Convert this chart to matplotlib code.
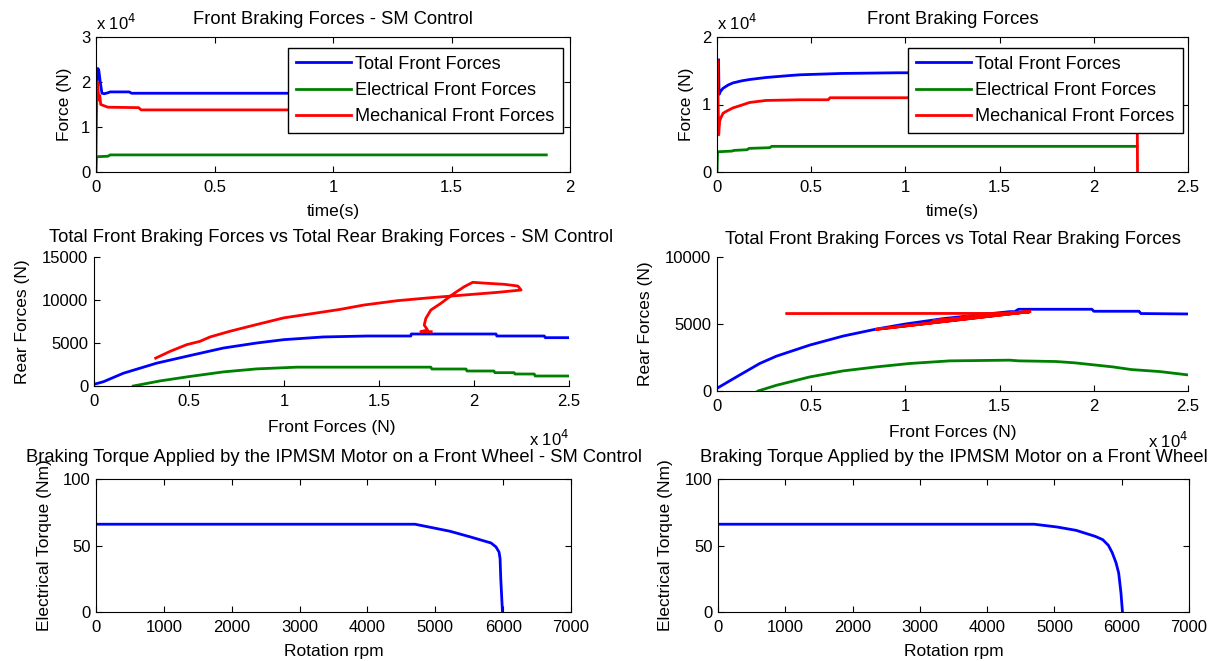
import numpy as np
import matplotlib
matplotlib.use("Agg")
import matplotlib.pyplot as plt

plt.rcParams['font.family'] = ['Liberation Sans', 'DejaVu Sans']

# --- top row: front braking forces vs time (N) ---
t_sm_total = [0, 0.003, 0.008, 0.012, 0.018, 0.025, 0.035, 0.05, 0.06, 0.14, 0.15, 1.9]
f_sm_total = [14000, 19000, 23000, 22500, 20000, 17500, 17400, 17600, 17800, 17800, 17500, 17500]
t_sm_elec = [0, 0.002, 0.004, 0.05, 0.06, 1.9]
f_sm_elec = [0, 3000, 3400, 3500, 3800, 3800]
t_sm_mech = [0, 0.002, 0.005, 0.008, 0.012, 0.016, 0.02, 0.03, 0.05, 0.18, 0.19, 1.9]
f_sm_mech = [3000, 12000, 20000, 19500, 16000, 17000, 15000, 14800, 14400, 14300, 13800, 13800]

t_total = [0.008, 0.011, 0.02, 0.032, 0.06, 0.085, 0.13, 0.173, 0.26, 0.39, 0.44, 0.66, 0.96, 1.5, 2.23]
f_total = [16600, 11500, 12000, 12400, 12900, 13200, 13500, 13700, 14000, 14300, 14400, 14600, 14700, 14700, 14700]
t_elec = [0, 0.003, 0.006, 0.08, 0.09, 0.16, 0.17, 0.28, 0.29, 2.23]
f_elec = [0, 3000, 3000, 3100, 3200, 3300, 3500, 3600, 3800, 3800]
t_mech = [0, 0.002, 0.004, 0.009, 0.014, 0.02, 0.032, 0.05, 0.085, 0.13, 0.173, 0.26, 0.44, 0.59, 0.6, 2.23, 2.232]
f_mech = [14000, 16500, 14000, 5500, 7500, 8000, 8700, 9000, 9500, 9900, 10300, 10600, 10700, 10700, 11000, 11000, 0]

# --- middle row: front vs rear forces (N) ---
sm_front_total = [0, 500, 1544, 3298, 5000, 6807, 8561, 10000, 12070, 14390, 15000, 16675, 16700,
                  21160, 21200, 23700, 23750, 25000]
sm_rear_total = [200, 500, 1484, 2656, 3516, 4414, 5000, 5390, 5703, 5814, 5814, 5814, 6047,
                 6047, 5814, 5814, 5620, 5620]
sm_front_elec = [2070, 3500, 5000, 6807, 8561, 10667, 17730, 17780, 19580, 19630, 21050, 21100,
                 22110, 22160, 23170, 23220, 25000]
sm_rear_elec = [0, 600, 1094, 1640, 1990, 2190, 2190, 1977, 1977, 1744, 1744, 1550,
                1550, 1395, 1395, 1163, 1163]
sm_front_mech = [3246, 4000, 4877, 5579, 6105, 7158, 8561, 10000, 11193, 12947, 14212, 15973, 17731,
                 19490, 21250, 22480, 22306, 21600, 20723, 19930, 19490, 18960, 18260, 17730, 17467,
                 17380, 17555, 17200, 17750]
sm_rear_mech = [3242, 4023, 4805, 5195, 5703, 6367, 7148, 7930, 8320, 8906, 9419, 9923, 10270,
                10581, 10891, 11163, 11628, 11822, 11938, 12054, 11550, 10780, 9617, 8837, 7868,
                7093, 6512, 6318, 6318]

front_total = [0, 1030, 2268, 3155, 4923, 6692, 8465, 10000, 12000, 14000, 15545, 15800, 16000,
               19900, 20000, 22400, 22500, 25000]
rear_total = [200, 1050, 2054, 2601, 3426, 4100, 4625, 5000, 5400, 5700, 5922, 5922, 6100,
              6100, 5950, 5950, 5780, 5750]
front_elec = [2178, 3155, 4923, 6692, 8465, 10234, 12358, 15545, 16000, 18000, 19000, 20000,
              21000, 22000, 23500, 25000]
rear_elec = [0, 427, 1050, 1500, 1800, 2054, 2249, 2301, 2250, 2200, 2100, 1950, 1800, 1600, 1450, 1200]
front_mech = [3700, 15000, 16600, 8465, 16600, 11500, 16600, 13000, 16600]
rear_mech = [5780, 5790, 5920, 4603, 5920, 5250, 5920, 5500, 5920]

# --- bottom row: motor torque vs rotation ---
sm_rpm = [0, 4700, 4976, 5218, 5520, 5822, 5895, 5940, 5955, 5965, 5980, 5990]
sm_torque = [66, 66, 63.2, 60.7, 56.4, 51.9, 48.9, 45, 40, 25, 10, 0]
rpm = [0, 4700, 5040, 5322, 5605, 5718, 5802, 5859, 5915, 5955, 5989, 6011]
torque = [66, 66, 63.9, 61.4, 56.9, 54.4, 50.1, 44.6, 37.1, 29.3, 14.3, 0]

legend_labels = ['Total Front Forces', 'Electrical Front Forces', 'Mechanical Front Forces']

BLUE = (0, 0, 1)
GREEN = (0, 0.5, 0)
RED = (1, 0, 0)
LW = 2.0
FS = 12.5       # axis labels
FS_T = 13.2     # titles
FS_L = 13.1     # legend

W, H = 1215, 661


def box(l, r, t, b):
    # pixel box -> figure fraction
    return [l / W, (H - b) / H, (r - l) / W, (b - t) / H]


def style(ax, full_box=True):
    ax.tick_params(direction='in', length=4, width=0.8, labelsize=12, pad=6,
                   top=full_box, right=full_box)
    ax.tick_params(axis='y', pad=4)
    for s in ['top', 'right']:
        ax.spines[s].set_visible(full_box)
    for s in ax.spines.values():
        s.set_linewidth(0.8)


def fmt(vals):
    return ['%g' % v for v in vals]


def add_legend(ax, x):
    leg = ax.legend(legend_labels, loc='upper right', bbox_to_anchor=(x, 0.921), fontsize=FS_L,
                    fancybox=False, edgecolor='black', framealpha=1, handlelength=3.0,
                    handletextpad=0.25, labelspacing=0.5, borderpad=0.45, borderaxespad=0)
    leg.get_frame().set_linewidth(1.0)


fig = plt.figure(figsize=(12.15, 6.61), dpi=100)

# top left
ax = fig.add_axes(box(96, 570, 37, 172))
ax.plot(np.array(t_sm_total), np.array(f_sm_total) / 1e4, color=BLUE, lw=LW)
ax.plot(np.array(t_sm_elec), np.array(f_sm_elec) / 1e4, color=GREEN, lw=LW)
ax.plot(np.array(t_sm_mech), np.array(f_sm_mech) / 1e4, color=RED, lw=LW)
ax.set_xlim(0, 2)
ax.set_ylim(0, 3)
ax.set_xticks([0, 0.5, 1, 1.5, 2], fmt([0, 0.5, 1, 1.5, 2]))
ax.set_yticks([0, 1, 2, 3], fmt([0, 1, 2, 3]))
style(ax)
ax.set_title('Front Braking Forces - SM Control', fontsize=FS_T, pad=9)
ax.set_xlabel('time(s)', fontsize=FS, labelpad=6)
ax.set_ylabel('Force (N)', fontsize=FS)
ax.yaxis.set_label_coords(-0.051, 0.5)
ax.text(0.0, 1.03, r'x 10$^4$', transform=ax.transAxes, fontsize=12, ha='left', va='bottom')
add_legend(ax, 0.985)

# top right
ax = fig.add_axes(box(717, 1188, 37, 172))
ax.plot(np.array(t_total), np.array(f_total) / 1e4, color=BLUE, lw=LW)
ax.plot(np.array(t_elec), np.array(f_elec) / 1e4, color=GREEN, lw=LW)
ax.plot(np.array(t_mech), np.array(f_mech) / 1e4, color=RED, lw=LW)
ax.set_xlim(0, 2.5)
ax.set_ylim(0, 2)
ax.set_xticks([0, 0.5, 1, 1.5, 2, 2.5], fmt([0, 0.5, 1, 1.5, 2, 2.5]))
ax.set_yticks([0, 1, 2], fmt([0, 1, 2]))
style(ax)
ax.set_title('Front Braking Forces', fontsize=FS_T, pad=9)
ax.set_xlabel('time(s)', fontsize=FS, labelpad=6)
ax.set_ylabel('Force (N)', fontsize=FS)
ax.yaxis.set_label_coords(-0.049, 0.5)
ax.text(0.0, 1.03, r'x 10$^4$', transform=ax.transAxes, fontsize=12, ha='left', va='bottom')
add_legend(ax, 0.989)

# middle left
ax = fig.add_axes(box(94, 569, 257, 386))
ax.plot(np.array(sm_front_total) / 1e4, sm_rear_total, color=BLUE, lw=LW)
ax.plot(np.array(sm_front_elec) / 1e4, sm_rear_elec, color=GREEN, lw=LW)
ax.plot(np.array(sm_front_mech) / 1e4, sm_rear_mech, color=RED, lw=LW)
ax.set_xlim(0, 2.5)
ax.set_ylim(0, 15000)
ax.set_xticks([0, 0.5, 1, 1.5, 2, 2.5], fmt([0, 0.5, 1, 1.5, 2, 2.5]))
ax.set_yticks([0, 5000, 10000, 15000], fmt([0, 5000, 10000, 15000]))
style(ax, full_box=False)
ax.set_title('Total Front Braking Forces vs Total Rear Braking Forces - SM Control', fontsize=FS_T, pad=11)
ax.set_xlabel('Front Forces (N)', fontsize=FS, labelpad=8)
ax.set_ylabel('Rear Forces (N)', fontsize=FS)
ax.yaxis.set_label_coords(-0.135, 0.5)
ax.text(1.0, -0.33, r'x 10$^4$', transform=ax.transAxes, fontsize=12, ha='right', va='top')

# middle right
ax = fig.add_axes(box(717, 1188, 257, 391))
ax.plot(np.array(front_total) / 1e4, rear_total, color=BLUE, lw=LW)
ax.plot(np.array(front_elec) / 1e4, rear_elec, color=GREEN, lw=LW)
ax.plot(np.array(front_mech) / 1e4, rear_mech, color=RED, lw=LW)
ax.set_xlim(0, 2.5)
ax.set_ylim(0, 10000)
ax.set_xticks([0, 0.5, 1, 1.5, 2, 2.5], fmt([0, 0.5, 1, 1.5, 2, 2.5]))
ax.set_yticks([0, 5000, 10000], fmt([0, 5000, 10000]))
style(ax, full_box=False)
ax.set_title('Total Front Braking Forces vs Total Rear Braking Forces', fontsize=FS_T, pad=9)
ax.set_xlabel('Front Forces (N)', fontsize=FS, labelpad=8)
ax.set_ylabel('Rear Forces (N)', fontsize=FS)
ax.yaxis.set_label_coords(-0.136, 0.5)
ax.text(1.0, -0.3, r'x 10$^4$', transform=ax.transAxes, fontsize=12, ha='right', va='top')

# bottom left
ax = fig.add_axes(box(96, 571, 479, 612))
ax.plot(sm_rpm, sm_torque, color=BLUE, lw=LW)
ax.set_xlim(0, 7000)
ax.set_ylim(0, 100)
ax.set_xticks(range(0, 7001, 1000))
ax.set_yticks([0, 50, 100])
style(ax)
ax.set_title('Braking Torque Applied by the IPMSM Motor on a Front Wheel - SM Control', fontsize=FS_T, pad=12)
ax.set_xlabel('Rotation rpm', fontsize=FS, labelpad=6)
ax.set_ylabel('Electrical Torque (Nm)', fontsize=FS)
ax.yaxis.set_label_coords(-0.093, 0.5)

# bottom right
ax = fig.add_axes(box(718, 1189, 479, 612))
ax.plot(rpm, torque, color=BLUE, lw=LW)
ax.set_xlim(0, 7000)
ax.set_ylim(0, 100)
ax.set_xticks(range(0, 7001, 1000))
ax.set_yticks([0, 50, 100])
style(ax)
ax.set_title('Braking Torque Applied by the IPMSM Motor on a Front Wheel', fontsize=FS_T, pad=12)
ax.set_xlabel('Rotation rpm', fontsize=FS, labelpad=6)
ax.set_ylabel('Electrical Torque (Nm)', fontsize=FS)
ax.yaxis.set_label_coords(-0.096, 0.5)

fig.savefig('out.png', dpi=100)
